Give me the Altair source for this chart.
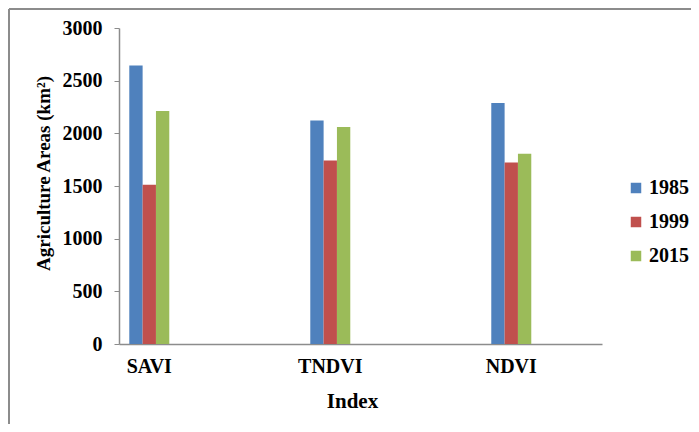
import altair as alt
import pandas as pd

indices = ["SAVI", "TNDVI", "NDVI"]
years = ["1985", "1999", "2015"]
v1985 = [2645, 2122, 2287]
v1999 = [1512, 1743, 1724]
v2015 = [2212, 2060, 1806]
colors = ["#4F81BD", "#C0504D", "#9BBB59"]
y_ticks = [0, 500, 1000, 1500, 2000, 2500, 3000]

rows = []
for yr, vals in zip(years, [v1985, v1999, v2015]):
    for idx, v in zip(indices, vals):
        rows.append({"Index": idx, "Year": yr, "Area": v})
df = pd.DataFrame(rows)

FONT = "Liberation Serif"

bars = alt.Chart(df).mark_bar().encode(
    x=alt.X(
        "Index:N",
        sort=indices,
        scale=alt.Scale(paddingInner=0.779, paddingOuter=0.2238, align=0.127),
        axis=alt.Axis(
            title="Index",
            labelAngle=0,
            ticks=False,
            domainColor="#8c8c8c",
            domainWidth=1.5,
            labelFont=FONT,
            labelFontWeight="bold",
            labelFontSize=20,
            labelColor="black",
            labelPadding=12,
            titleFont=FONT,
            titleFontWeight="bold",
            titleFontSize=21,
            titleColor="black",
            titleX=233,
            titleY=63,
            titleBaseline="alphabetic",
            titleAlign="center",
        ),
    ),
    xOffset=alt.XOffset("Year:N", sort=years, scale=alt.Scale(paddingInner=0, paddingOuter=0)),
    y=alt.Y(
        "Area:Q",
        scale=alt.Scale(domain=[0, 3000], nice=False),
        axis=alt.Axis(
            title="Agriculture Areas (km²)",
            values=y_ticks,
            format="d",
            grid=False,
            domainColor="#8c8c8c",
            domainWidth=1.5,
            tickColor="#8c8c8c",
            tickSize=5,
            labelFont=FONT,
            labelFontWeight="bold",
            labelFontSize=20,
            labelColor="black",
            labelPadding=12,
            titleFont=FONT,
            titleFontWeight="bold",
            titleFontSize=19,
            titleColor="black",
            titleAngle=-90,
            titleX=-70,
            titleY=145,
            titleAlign="center",
            titleBaseline="alphabetic",
        ),
    ),
    color=alt.Color(
        "Year:N",
        sort=years,
        scale=alt.Scale(domain=years, range=colors),
        legend=alt.Legend(
            title=None,
            orient="none",
            legendX=507,
            legendY=150,
            symbolType="square",
            symbolSize=110,
            symbolStrokeWidth=0,
            labelFont=FONT,
            labelFontWeight="bold",
            labelFontSize=20,
            labelColor="black",
            rowPadding=14,
            labelOffset=3,
            padding=0,
        ),
    ),
)

frame = pd.DataFrame({"k": [0]})
top_border = alt.Chart(frame).mark_rule(color="#8c8c8c", strokeWidth=2).encode(
    x=alt.value(-110), x2=alt.value(572), y=alt.value(-19)
)
left_border = alt.Chart(frame).mark_rule(color="#8c8c8c", strokeWidth=2).encode(
    x=alt.value(-110), y=alt.value(-19), y2=alt.value(400)
)

chart = alt.layer(bars, top_border, left_border).properties(
    width=483,
    height=316,
    padding={"left": 111, "top": 20, "right": 89, "bottom": 80},
    autosize=alt.AutoSizeParams(type="none"),
).configure(background="white").configure_view(stroke=None, strokeWidth=0)

chart.save("out.html", embed_options={"renderer": "svg", "actions": False})
